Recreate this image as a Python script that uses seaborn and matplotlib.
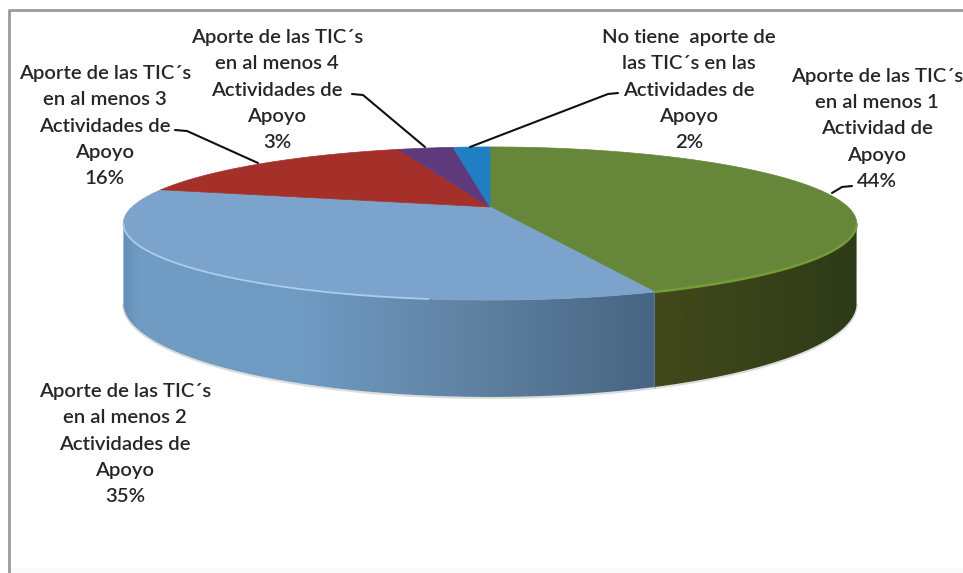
import numpy as np
import matplotlib
matplotlib.use("Agg")
import matplotlib.pyplot as plt
from matplotlib.colors import LinearSegmentedColormap
from matplotlib.path import Path
from matplotlib.patches import PathPatch
import seaborn as sns

# data
categorias = [
    "Aporte de las TIC´s\nen al menos 1\nActividad de\nApoyo\n44%",
    "Aporte de las TIC´s\nen al menos 2\nActividades de\nApoyo\n35%",
    "Aporte de las TIC´s\nen al menos 3\nActividades de\nApoyo\n16%",
    "Aporte de las TIC´s\nen al menos 4\nActividades de\nApoyo\n3%",
    "No tiene  aporte de\nlas TIC´s en las\nActividades de\nApoyo\n2%",
]
valores = [44, 35, 16, 3, 2]
colores = ["#66873a", "#7ba3cb", "#a5302a", "#5e3a7c", "#1f7fc2"]

# where the labels sit, in pixels of the 963x573 picture
label_pos = [(877, 129), (125, 444), (105, 126), (277, 90), (689, 90)]
leaders = [
    [(852, 186), (842, 187), (832, 193)],
    None,
    [(175, 130), (187, 131), (258, 163)],
    [(352, 94), (363, 95), (425, 147)],
    [(618, 93), (608, 94), (470, 147)],
]

# perspective of the 3d pie
CX, CY = 490, 207
A, B, P = 358, 73, 0.2157
DEPTH = 76


def project(theta):
    # angle of the flat pie -> point on the rim of the tilted one
    u, v = np.cos(theta), np.sin(theta)
    return CX + A * u / (1 + P * v), CY - B * v / (1 + P * v), v


def rim(t1, t2):
    th = np.radians(np.linspace(t1, t2, 400))
    x, y, v = project(th)
    return x, y, y + DEPTH / (1 + P * v), v


sns.set_theme(style="white")
plt.rcParams["font.family"] = ["Lato", "DejaVu Sans"]

fig = plt.figure(figsize=(9.63, 5.73), dpi=100, facecolor="white")
ax = fig.add_axes([0, 0, 1, 1])

wedges, _ = ax.pie(valores, startangle=90, counterclock=False, colors=colores)
angulos = [(w.theta1, w.theta2) for w in wedges]
for w in wedges:
    w.remove()

ax.set_aspect("auto")
ax.axis("off")

# side walls, only green and the big blue one can be seen
side_cmaps = {
    0: LinearSegmentedColormap.from_list("g", [(0, "#42491a"), (0.45, "#39431a"), (1, "#2e3b17")]),
    1: LinearSegmentedColormap.from_list("b", [(0, "#6490b8"), (0.03, "#719cc4"), (0.35, "#6f9ac2"),
                                               (0.68, "#5f7f9f"), (1, "#466582")]),
}
for i, cmap in side_cmaps.items():
    t1, t2 = angulos[i]
    x, y, yb, v = rim(t1, t2)
    front = v <= -P  # the wall turns away behind the widest point
    x, y, yb = x[front], y[front], yb[front]
    verts = np.r_[np.c_[x, y], np.c_[x[::-1], yb[::-1]], [[x[0], y[0]]]]
    # soft shadow along the bottom edge
    ax.plot(x, yb + 1, color="#555555", lw=1.6, alpha=0.2, zorder=1)
    patch = PathPatch(Path(verts), fc="none", ec="none", transform=ax.transData)
    ax.add_patch(patch)
    grad = np.linspace(0, 1, 256).reshape(1, -1)
    im = ax.imshow(grad, cmap=cmap, aspect="auto", zorder=2,
                   extent=(x.min(), x.max(), yb.max(), y.min()))
    im.set_clip_path(patch)
ax.set_xlim(0, 963)
ax.set_ylim(573, 0)

# top faces
for (t1, t2), color in zip(angulos, colores):
    x, y, _, _ = rim(t1, t2)
    ax.fill(np.r_[CX, x], np.r_[CY, y], color=color, lw=0.5, zorder=3)

# light rim on the front of the blue and green slices
x, y, _, v = rim(*angulos[1])
ax.plot(x[(v <= -P) & (x < 430)], y[(v <= -P) & (x < 430)], color="#a9cdee", lw=1.3, zorder=4)
x, y, _, v = rim(*angulos[0])
ax.plot(x[v <= -P], y[v <= -P], color="#769c36", lw=1.8, zorder=4)

for texto, (tx, ty), linea in zip(categorias, label_pos, leaders):
    ax.text(tx, ty, texto, ha="center", va="center", fontsize=14.6, fontweight="semibold",
            color="#262626", linespacing=1.66, zorder=6)
    if linea:
        ax.plot(*zip(*linea), color="#111111", lw=1.5, zorder=5)

# grey frame of the screenshot
ax.plot([9, 9, 963], [573, 10, 10], color="#9a9a9a", lw=2, zorder=7, clip_on=False)
ax.axhspan(568, 573, xmin=10 / 963, color="#fafafa", lw=0, zorder=0)

fig.savefig("out.png", dpi=100)
